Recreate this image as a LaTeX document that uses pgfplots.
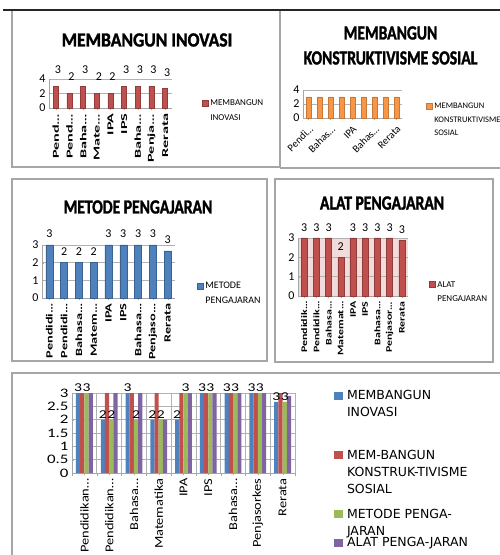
\documentclass[border=0pt]{standalone}
\usepackage{fontspec}
\setmainfont{Carlito}
\newfontfamily\legfive{DejaVu Sans}
\newfontfamily\titlefont{Carlito Bold}[FakeStretch=0.78, FakeBold=1.5]
\newfontfamily\titlefontB{Carlito Bold}[FakeStretch=0.88, FakeBold=1.5]
\newfontfamily\labA{Carlito}[FakeStretch=1.8]
\newfontfamily\labC{Carlito}[FakeStretch=1.5]
\newfontfamily\labD{Carlito}[FakeStretch=1.4]
\newfontfamily\labE{Carlito}[FakeStretch=1.2]
\newfontfamily\numE{Carlito}[FakeStretch=1.3]
\usepackage{pgfplots}
\pgfplotsset{compat=1.18}
\definecolor{cred}{HTML}{C0504D}
\definecolor{corange}{HTML}{F79646}
\definecolor{cblue}{HTML}{4F81BD}
\definecolor{cgreen}{HTML}{9BBB59}
\definecolor{cpurple}{HTML}{8064A2}
\definecolor{cpink}{HTML}{F2DCDB}
\definecolor{frame}{HTML}{A6A6A6}
\pgfplotsset{
  panel/.style={
    scale only axis, anchor=south west,
    axis x line*=bottom, axis y line*=left,
    axis line style={draw=gray!70}, ymajorgrids,
    grid style={gray!60, line width=0.6pt},
    major tick length=2pt, tick style={gray!70},
    xmin=-0.5, xmax=8.5, ymin=0, clip=false,
    /pgf/number format/assume math mode=true,
    ybar, bar width=5pt,
    every axis title shift=0pt,
    title style={anchor=center, align=center, yshift=0pt,
      font=\titlefont\fontsize{20}{25}\selectfont},
    legend style={draw=none, fill=none, inner sep=0pt, outer sep=0pt,
      anchor=north west, cells={anchor=base west},
      nodes={inner sep=0pt, text depth=}, column sep=0pt, row sep=0pt},
    legend image code/.code={\fill[##1] (0pt,0pt) rectangle (6pt,6pt); \path (8pt,0pt);},
    y tick label style={font=\fontsize{12}{12}\selectfont},
    xtick={0,...,8},
  },
}
\begin{document}
\begin{tikzpicture}[x=1pt,y=1pt]
\useasboundingbox (0,0) rectangle (500,555);
% panel frames
\draw[frame, line width=1.3pt] (12,545) -- (12,388) -- (280,388) -- (280,545);
\draw[frame, line width=1.3pt] (280,387) -- (500,387);
\draw[frame, line width=1.3pt] (12,194) rectangle (267,376);
\draw[frame, line width=1.3pt] (275,193) rectangle (493,376);
\draw[frame, line width=1.3pt] (12,0) -- (12,182) -- (500,182);
\draw[black!85, line width=1.6pt] (3,545) -- (500,545);

% Panel 1
\begin{axis}[panel, at={(49pt,447pt)}, width=123pt, height=29pt,
  ymax=4, ytick={0,2,4},
  title={MEMBANGUN INOVASI},
  title style={at={(0.797,2.345)}, font=\titlefontB\fontsize{20}{25}\selectfont},
  xticklabels={Pend…,Pend…,Baha…,Mate…,IPA,IPS,Baha…,Penja…,Rerata},
  x tick label style={rotate=90, anchor=east, font=\labA\bfseries\fontsize{9}{9}\selectfont},
  nodes near coords={\pgfmathprintnumber[fixed,precision=0]{\pgfplotspointmeta}},
  nodes near coords style={font=\fontsize{12}{12}\selectfont, yshift=9pt, xshift=2pt},
  legend style={at={(1.244,0.431)}, font=\fontsize{9}{15}\selectfont}]
\addplot[fill=cred, draw=cred!75!black] coordinates {(0,3) (1,2) (2,3) (3,2) (4,2) (5,3) (6,3) (7,3) (8,2.67)};
\addlegendentry{\begin{tabular}[t]{@{}l@{}}MEMBANGUN\\INOVASI\end{tabular}}
\end{axis}

% Panel 2
\begin{axis}[panel, at={(303pt,437pt)}, width=99pt, height=28pt,
  ymax=4, ytick={0,2,4}, bar width=4.5pt,
  title={MEMBANGUN\\KONSTRUKTIVISME SOSIAL}, title style={at={(0.884,2.59)}},
  xtick={0,2,4,6,8}, xticklabels={Pendi…,Bahas…,IPA,Bahas…,Rerata},
  x tick label style={rotate=45, anchor=north east, font=\fontsize{10.5}{10.5}\selectfont},
  legend style={at={(1.242,0.66)}, font=\fontsize{8.5}{13.5}\selectfont}]
\addplot[fill=corange, draw=corange!80!black] coordinates {(0,3) (1,3) (2,3) (3,3) (4,3) (5,3) (6,3) (7,3) (8,3)};
\addlegendentry{\begin{tabular}[t]{@{}l@{}}MEMBANGUN\\KONSTRUKTIVISME\\SOSIAL\end{tabular}}
\end{axis}

% Panel 3
\begin{axis}[panel, at={(42pt,257pt)}, width=133pt, height=53pt,
  ymax=3, ytick={0,1,2,3}, bar width=7pt,
  title={METODE PENGAJARAN}, title style={at={(0.722,1.717)}},
  xticklabels={Pendidi…,Pendidi…,Bahasa…,Matem…,IPA,IPS,Bahasa…,Penjaso…,Rerata},
  x tick label style={rotate=90, anchor=east, font=\labC\bfseries\fontsize{9.5}{9.5}\selectfont},
  nodes near coords={\pgfmathprintnumber[fixed,precision=0]{\pgfplotspointmeta}},
  nodes near coords style={font=\fontsize{12}{12}\selectfont, yshift=4pt},
  legend style={at={(1.165,0.368)}, font=\fontsize{10}{15}\selectfont}]
\addplot[fill=cblue, draw=cblue!75!black] coordinates {(0,3) (1,2) (2,2) (3,2) (4,3) (5,3) (6,3) (7,3) (8,2.67)};
\addlegendentry{\begin{tabular}[t]{@{}l@{}}METODE\\PENGAJARAN\end{tabular}}
\end{axis}

% Panel 4
\begin{axis}[panel, at={(298pt,259pt)}, width=110pt, height=58pt,
  ymax=3, ytick={0,1,2,3}, bar width=6pt,
  axis background/.style={fill=cpink},
  title={ALAT PENGAJARAN}, title style={at={(0.764,1.603)}},
  xticklabels={Pendidik…,Pendidik…,Bahasa…,Matemat…,IPA,IPS,Bahasa…,Penjasor…,Rerata},
  x tick label style={rotate=90, anchor=east, font=\labD\bfseries\fontsize{8.5}{8.5}\selectfont},
  nodes near coords={\pgfmathprintnumber[fixed,precision=0]{\pgfplotspointmeta}},
  nodes near coords style={font=\fontsize{12}{12}\selectfont, yshift=3pt},
  legend style={at={(1.191,0.324)}, font=\fontsize{9}{14}\selectfont}]
\addplot[fill=cred, draw=cred!75!black] coordinates {(0,3) (1,3) (2,3) (3,2) (4,3) (5,3) (6,3) (7,3) (8,2.89)};
\addlegendentry{\begin{tabular}[t]{@{}l@{}}ALAT\\PENGAJARAN\end{tabular}}
\end{axis}

% Panel 5
\begin{axis}[panel, at={(72pt,82pt)}, width=223pt, height=80pt,
  ymax=3, ytick={0,0.5,...,3}, ybar=0pt, bar width=4.2pt,
  minor xtick={-0.5,0.5,...,8.5}, xminorgrids, minor grid style={gray!60, line width=0.6pt},
  xticklabels={Pendidikan…,Pendidikan…,Bahasa…,Matematika,IPA,IPS,Bahasa…,Penjasorkes,Rerata},
  x tick label style={rotate=90, anchor=east, font=\labE\fontsize{12}{12}\selectfont},
  y tick label style={font=\numE\fontsize{13}{13}\selectfont},
  legend image code/.code={\fill[#1] (0pt,0pt) rectangle (9pt,8pt); \path (13pt,0pt);},
  legend style={at={(1.175,1.0675)}, font=\legfive\fontsize{12.5}{17}\selectfont}]
\addplot[fill=cblue, draw=none,
  nodes near coords={\pgfmathprintnumber[fixed,precision=0]{\pgfplotspointmeta}},
  nodes near coords style={font=\numE\fontsize{12}{12}\selectfont, inner sep=1pt}]
  coordinates {(0,3) (1,2) (2,3) (3,2) (4,2) (5,3) (6,3) (7,3) (8,2.67)};
\addlegendentry{\raisebox{0pt}[\height][48pt]{\begin{tabular}[t]{@{}l@{}}MEMBANGUN\\INOVASI\end{tabular}}}
\addplot[fill=cred, draw=none]
  coordinates {(0,3) (1,3) (2,3) (3,3) (4,3) (5,3) (6,3) (7,3) (8,3)};
\addlegendentry{\raisebox{0pt}[\height][47pt]{\begin{tabular}[t]{@{}l@{}}MEM-BANGUN\\KONSTRUK-TIVISME\\SOSIAL\end{tabular}}}
\addplot[fill=cgreen, draw=none,
  nodes near coords={\pgfmathprintnumber[fixed,precision=0]{\pgfplotspointmeta}},
  nodes near coords style={font=\numE\fontsize{12}{12}\selectfont, inner sep=1pt}]
  coordinates {(0,3) (1,2) (2,2) (3,2) (4,3) (5,3) (6,3) (7,3) (8,2.67)};
\addlegendentry{\raisebox{0pt}[\height][19pt]{\begin{tabular}[t]{@{}l@{}}METODE PENGA-\\JARAN\end{tabular}}}
\addplot[fill=cpurple, draw=none]
  coordinates {(0,3) (1,3) (2,3) (3,2) (4,3) (5,3) (6,3) (7,3) (8,2.89)};
\addlegendentry{ALAT PENGA-JARAN}
\end{axis}
\end{tikzpicture}
\end{document}
